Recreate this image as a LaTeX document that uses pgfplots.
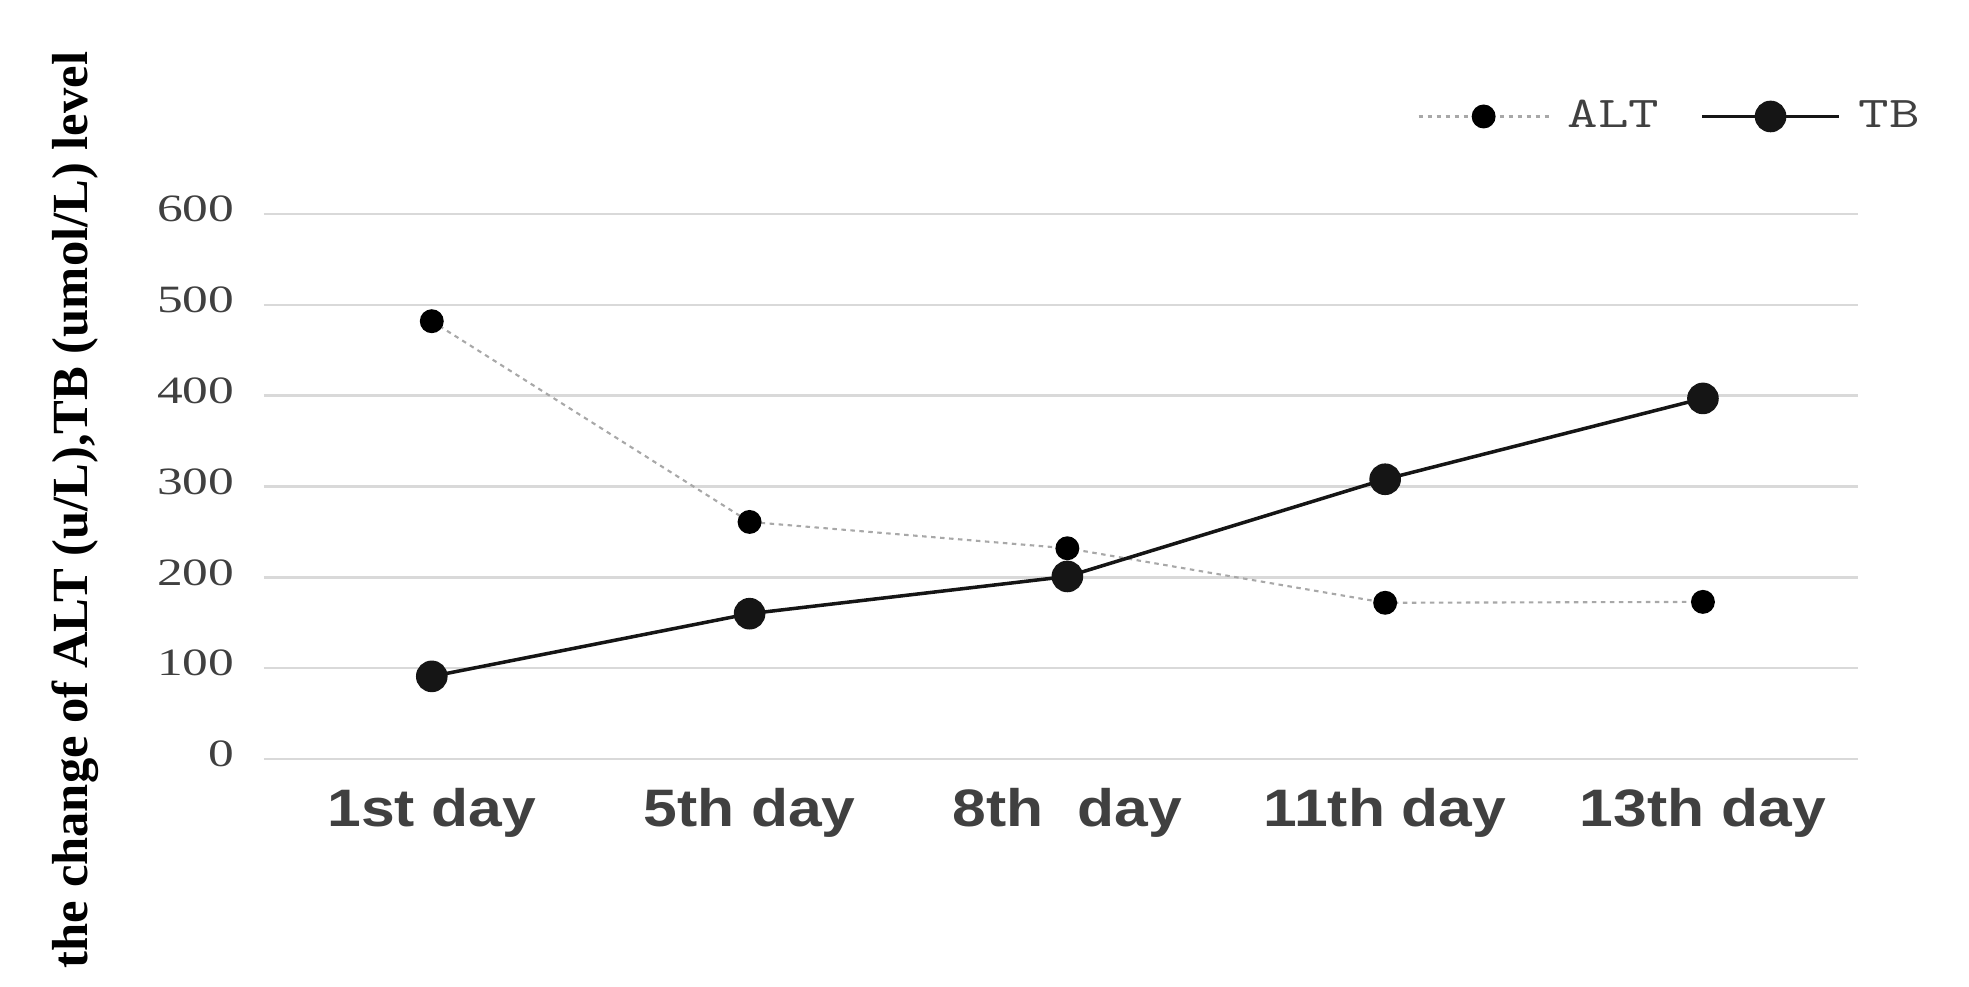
\documentclass[border=0pt]{standalone}
\usepackage{fontspec}
\usepackage{pgfplots}
\pgfplotsset{compat=1.18}
\setmainfont{Liberation Serif}
\newfontfamily\ytickfont{Liberation Serif}[FakeStretch=1.33]
\newfontfamily\xtickfont{Liberation Sans}[FakeStretch=1.15]
\newfontfamily\ylabfont{Liberation Serif}
\definecolor{gridc}{HTML}{D9D9D9}
\definecolor{altc}{HTML}{A8A8A8}
\definecolor{tbc}{HTML}{151515}
\definecolor{txtc}{HTML}{404040}
\newcommand{\legtxt}[1]{\scalebox{1.35}[1]{\ttfamily\fontsize{12.5}{14}\selectfont #1}}
\pgfplotsset{
  altleg/.style={legend image code/.code={\draw[mark repeat=2,mark phase=2,##1] plot coordinates {(0mm,0mm) (6.5mm,0mm) (13mm,0mm)};}},
  tbleg/.style={legend image code/.code={\draw[mark repeat=2,mark phase=2,##1] plot coordinates {(0mm,0mm) (6.85mm,0mm) (13.7mm,0mm)};}},
}
\begin{document}
\begin{tikzpicture}
\begin{axis}[
  at={(0,0)}, anchor=south west,
  scale only axis,
  width=159.4mm, height=54.5mm,
  xmin=-0.528, xmax=4.488,
  ymin=0, ymax=600,
  axis line style={draw=none},
  major tick length=0pt,
  ytick={0,100,200,300,400,500,600},
  xtick={0,1,2,3,4},
  xticklabels={1st day,5th day,8th~~day,11th day,13th day},
  ymajorgrids,
  grid style={gridc, line width=0.7pt},
  yticklabel style={font=\ytickfont\fontsize{11}{13}\selectfont, text=txtc, inner sep=0pt, anchor=east, xshift=-2.9mm, yshift=0.5mm},
  xticklabel style={font=\xtickfont\bfseries\fontsize{15}{18}\selectfont, text=txtc, inner sep=0pt, anchor=north, yshift=-2.9mm},
  /pgf/number format/assume math mode=true,
  ylabel={the change of ALT (u/L),TB (umol/L) level},
  ylabel style={at={(axis description cs:-0.1186,0.457)}, anchor=center, inner sep=0pt, font=\ylabfont\bfseries\fontsize{14.4}{16}\selectfont, text=black},
  legend style={at={(axis description cs:0.7237,1.179)}, anchor=west, draw=none, fill=none, inner sep=0pt, outer sep=0pt,
    text=txtc,
    nodes={inner sep=0pt},
    column sep=1.8mm,
    /tikz/every even column/.append style={column sep=4.1mm}},
  legend columns=2,
  clip=false,
]
\addplot[altc, line width=0.6pt, dash pattern=on 0.45mm off 0.45mm,
  mark=*, mark size=3.1pt, mark options={solid, fill=black, draw=black}, altleg]
  coordinates {(0,482) (1,261) (2,232) (3,172) (4,173)};
\addlegendentry{\legtxt{ALT}}
\addplot[tbc, line width=1pt, solid,
  mark=*, mark size=4pt, mark options={fill=tbc, draw=tbc}, tbleg]
  coordinates {(0,91) (1,160) (2,201) (3,308) (4,397)};
\addlegendentry{\legtxt{TB}}
\end{axis}
\pgfresetboundingbox
\useasboundingbox (-26.4mm,-22.7mm) rectangle (170.5mm,75.9mm);
\end{tikzpicture}
\end{document}
